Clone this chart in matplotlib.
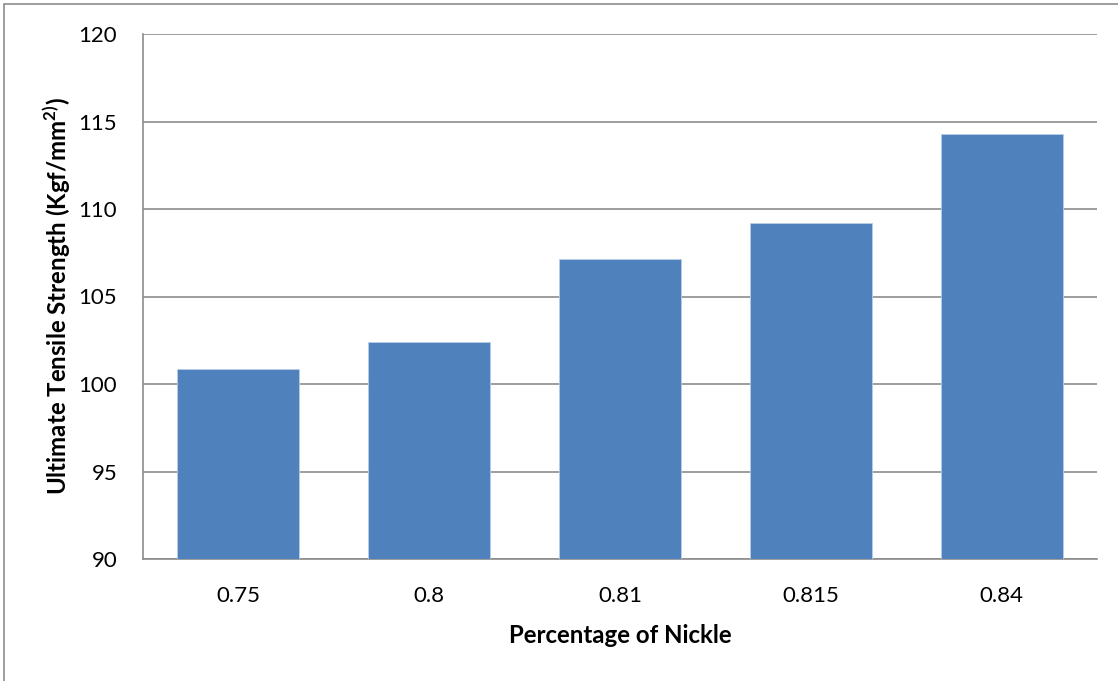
import matplotlib
matplotlib.use("Agg")
import matplotlib.pyplot as plt
from matplotlib.patches import Rectangle

# data
nickel_pct = ["0.75", "0.8", "0.81", "0.815", "0.84"]
uts_values = [100.84, 102.38, 107.14, 109.18, 114.27]
y_ticks = [90, 95, 100, 105, 110, 115, 120]

plt.rcParams['font.family'] = ['Lato', 'DejaVu Sans']
plt.rcParams['mathtext.fontset'] = 'custom'
plt.rcParams['mathtext.rm'] = 'Lato'
plt.rcParams['mathtext.bf'] = 'Lato:bold'

fig = plt.figure(figsize=(11.18, 6.81), dpi=100)
ax = fig.add_axes([143 / 1118, 1 - 559 / 681, 954 / 1118, 525 / 681])

# outer chart frame
fig.patches.append(Rectangle((4 / 1118, -0.01), 1.1, 1 - 4 / 681 + 0.01,
                             transform=fig.transFigure, fill=False,
                             edgecolor='#8c8c8c', linewidth=1.2))

ax.bar(range(len(nickel_pct)), uts_values, width=0.64, color='#4f81bd',
       edgecolor='#b9cde5', linewidth=0.6, zorder=3)

ax.set_ylim(90, 120)
ax.set_xlim(-0.5, len(nickel_pct) - 0.5)
ax.set_yticks(y_ticks)
ax.set_xticks(range(len(nickel_pct)))
ax.set_xticklabels(nickel_pct)
ax.yaxis.grid(True, color='#8c8c8c', linewidth=1.2, zorder=0)
ax.set_axisbelow(True)

for side in ['top', 'right']:
    ax.spines[side].set_visible(False)
for side in ['left', 'bottom']:
    ax.spines[side].set_color('#8c8c8c')
    ax.spines[side].set_linewidth(1.2)

ax.tick_params(axis='both', length=0, labelsize=16)
ax.tick_params(axis='y', pad=18.5)
ax.tick_params(axis='x', pad=19.5)

ax.set_xlabel("Percentage of Nickle", fontsize=17.3, fontweight='bold', labelpad=13)
ax.set_ylabel(r"Ultimate Tensile Strength (Kgf/mm$^{\mathbf{2)}}$)", fontsize=17.3,
              fontweight='bold', labelpad=4)

fig.savefig("out.png", dpi=100)
